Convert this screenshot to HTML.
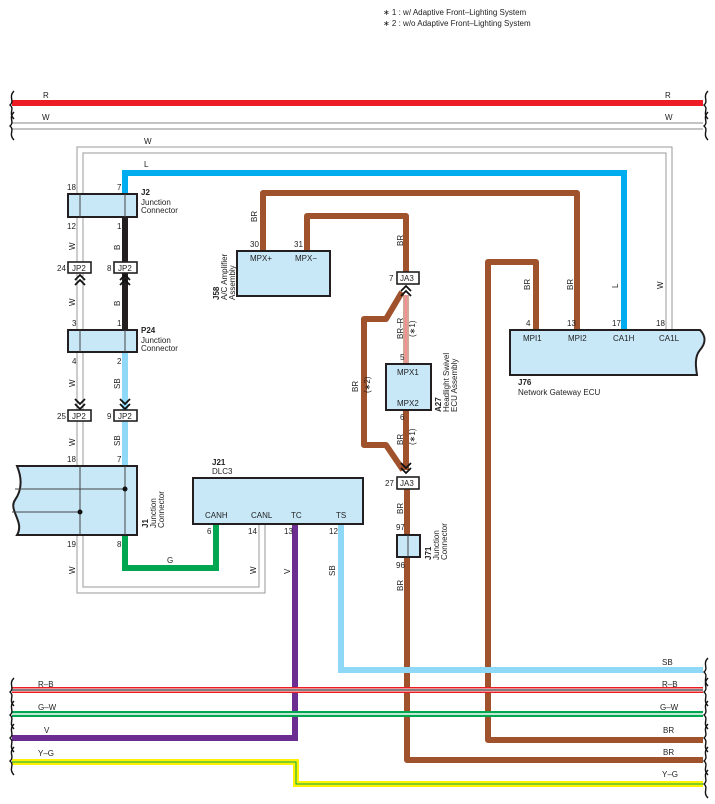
<!DOCTYPE html>
<html><head><meta charset="utf-8"><style>
html,body{margin:0;padding:0;background:#fff;}
svg{display:block;font-family:"Liberation Sans",sans-serif;}
text{font-size:8px;fill:#222;}
.b{font-weight:bold;}
</style></head><body>
<svg width="715" height="804" viewBox="0 0 715 804" xmlns="http://www.w3.org/2000/svg">
<defs>
<g id="chev"><path d="M-5,4 L0,-1 L5,4 M-5,9 L0,4 L5,9" fill="none" stroke="#111" stroke-width="1.8"/></g>
<path id="brace" d="M3,0 C-3,6 4,10 -1,14 C4,18 -3,22 3,28" fill="none" stroke="#111" stroke-width="1.4"/>
</defs>
<text x="383" y="15">∗ 1 : w/ Adaptive Front–Lighting System</text>
<text x="383" y="26">∗ 2 : w/o Adaptive Front–Lighting System</text>

<line x1="12" y1="103" x2="703" y2="103" stroke="#ed1c24" stroke-width="6"/>
<line x1="12" y1="123" x2="703" y2="123" stroke="#888" stroke-width="1"/>
<line x1="12" y1="129" x2="703" y2="129" stroke="#888" stroke-width="1"/>
<text x="43" y="98">R</text><text x="665" y="98">R</text>
<text x="42" y="120">W</text><text x="665" y="120">W</text>
<use href="#brace" x="11" y="91"/><use href="#brace" x="11" y="112"/>
<use href="#brace" x="705" y="91"/><use href="#brace" x="705" y="112"/>

<path d="M80,193 V150 H669 V330" fill="none" stroke="#999" stroke-width="7"/>
<path d="M80,193 V150 H669 V330" fill="none" stroke="#fff" stroke-width="5"/>
<text x="144" y="144">W</text>
<path d="M80,217 V466 M80,535 V590 H262 V524" fill="none" stroke="#999" stroke-width="7"/>
<path d="M80,217 V466 M80,535 V590 H262 V524" fill="none" stroke="#fff" stroke-width="5"/>

<path d="M125,193 V173 H624 V330" fill="none" stroke="#00aeef" stroke-width="6"/>
<text x="144" y="167">L</text>

<g fill="none" stroke="#a0522d" stroke-width="6" stroke-linejoin="round">
<path d="M263,251 V193 H577 V330"/>
<path d="M307,251 V216 H406 V272"/>
<path d="M402,292 L386,319 H364 V445 H386 L403,470"/>
<path d="M406,410 V470"/>
<path d="M407,489 V760 H703"/>
<path d="M536,330 V262 H488 V740 H703"/>
</g>
<line x1="406" y1="295" x2="406" y2="364" stroke="#a0522d" stroke-width="5"/>
<line x1="406" y1="295" x2="406" y2="364" stroke="#fff" stroke-width="3"/>
<line x1="406" y1="295" x2="406" y2="364" stroke="#ed1c24" stroke-width="1"/>

<line x1="125" y1="217" x2="125" y2="330" stroke="#231f20" stroke-width="6"/>
<line x1="125" y1="352" x2="125" y2="466" stroke="#8fd8f8" stroke-width="6"/>
<path d="M125,535 V568 H216 V524" fill="none" stroke="#00a650" stroke-width="6"/>
<text x="167" y="563">G</text>
<path d="M295,524 V738 H12" fill="none" stroke="#6b2d90" stroke-width="6"/>
<path d="M341,524 V670 H703" fill="none" stroke="#8fd8f8" stroke-width="6"/>

<line x1="12" y1="690" x2="703" y2="690" stroke="#ed1c24" stroke-width="6"/>
<line x1="12" y1="690" x2="703" y2="690" stroke="#fff" stroke-width="3"/>
<line x1="12" y1="690" x2="703" y2="690" stroke="#333" stroke-width="1.2"/>
<line x1="12" y1="714" x2="703" y2="714" stroke="#00a650" stroke-width="6"/>
<line x1="12" y1="714" x2="703" y2="714" stroke="#fff" stroke-width="1.5"/>
<path d="M12,762 H296 V784 H703" fill="none" stroke="#fff200" stroke-width="6"/>
<path d="M12,762 H296 V784 H703" fill="none" stroke="#00a650" stroke-width="1"/>
<text x="38" y="687">R–B</text><text x="38" y="710">G–W</text><text x="44" y="733">V</text><text x="38" y="756">Y–G</text>
<text x="662" y="665">SB</text><text x="662" y="687">R–B</text><text x="660" y="710">G–W</text>
<text x="663" y="733">BR</text><text x="663" y="755">BR</text><text x="662" y="777">Y–G</text>
<use href="#brace" x="11" y="678"/><use href="#brace" x="11" y="701"/><use href="#brace" x="11" y="724"/><use href="#brace" x="11" y="747"/>
<use href="#brace" x="705" y="658"/><use href="#brace" x="705" y="678"/><use href="#brace" x="705" y="701"/><use href="#brace" x="705" y="724"/><use href="#brace" x="705" y="747"/><use href="#brace" x="705" y="770"/>

<rect x="68" y="194" width="69" height="23" fill="#c8e8f8" stroke="#231f20" stroke-width="2"/>
<line x1="80" y1="194" x2="80" y2="217" stroke="#444"/><line x1="125" y1="194" x2="125" y2="217" stroke="#444"/>
<text x="67" y="190">18</text><text x="117" y="190">7</text>
<text x="141" y="195" class="b">J2</text><text x="141" y="205">Junction</text><text x="141" y="213">Connector</text>
<text x="67" y="229">12</text><text x="117" y="229">1</text>
<rect x="68" y="262" width="23" height="11" fill="#fff" stroke="#231f20" stroke-width="1.6"/>
<rect x="114" y="262" width="23" height="11" fill="#fff" stroke="#231f20" stroke-width="1.6"/>
<text x="72" y="271">JP2</text><text x="118" y="271">JP2</text>
<text x="57" y="271">24</text><text x="107" y="271">8</text>
<use href="#chev" x="80" y="276"/><use href="#chev" x="125" y="276"/>
<rect x="68" y="330" width="69" height="22" fill="#c8e8f8" stroke="#231f20" stroke-width="2"/>
<line x1="80" y1="330" x2="80" y2="352" stroke="#444"/><line x1="125" y1="330" x2="125" y2="352" stroke="#444"/>
<text x="72" y="326">3</text><text x="117" y="326">1</text>
<text x="141" y="333" class="b">P24</text><text x="141" y="343">Junction</text><text x="141" y="351">Connector</text>
<text x="72" y="364">4</text><text x="117" y="364">2</text>
<g transform="translate(80,408) scale(1,-1)"><use href="#chev" x="0" y="0"/></g>
<g transform="translate(125,408) scale(1,-1)"><use href="#chev" x="0" y="0"/></g>
<rect x="68" y="410" width="23" height="11" fill="#fff" stroke="#231f20" stroke-width="1.6"/>
<rect x="114" y="410" width="23" height="11" fill="#fff" stroke="#231f20" stroke-width="1.6"/>
<text x="72" y="419">JP2</text><text x="118" y="419">JP2</text>
<text x="57" y="419">25</text><text x="107" y="419">9</text>
<path d="M17,466 H137 V535 H17 C25,522 8,510 15,500 C22,490 22,478 17,466 Z" fill="#c8e8f8" stroke="#231f20" stroke-width="2"/>
<line x1="80" y1="466" x2="80" y2="535" stroke="#444"/><line x1="125" y1="466" x2="125" y2="535" stroke="#444"/>
<line x1="15" y1="489" x2="125" y2="489" stroke="#444"/><line x1="12" y1="512" x2="80" y2="512" stroke="#444"/>
<circle cx="125" cy="489" r="2.5" fill="#111"/><circle cx="80" cy="512" r="2.5" fill="#111"/>
<text x="67" y="462">18</text><text x="117" y="462">7</text>
<text x="67" y="547">19</text><text x="117" y="547">8</text>
<g transform="translate(148,528) rotate(-90)"><text x="0" y="0" class="b">J1</text></g>
<g transform="translate(156,528) rotate(-90)"><text x="0" y="0">Junction</text></g>
<g transform="translate(164,528) rotate(-90)"><text x="0" y="0">Connector</text></g>

<rect x="193" y="478" width="170" height="46" fill="#c8e8f8" stroke="#231f20" stroke-width="2"/>
<text x="212" y="465" class="b">J21</text><text x="212" y="474">DLC3</text>
<text x="205" y="518">CANH</text><text x="251" y="518">CANL</text><text x="291" y="518">TC</text><text x="336" y="518">TS</text>
<text x="207" y="534">6</text><text x="248" y="534">14</text><text x="284" y="534">13</text><text x="329" y="534">12</text>

<rect x="237" y="251" width="93" height="45" fill="#c8e8f8" stroke="#231f20" stroke-width="2"/>
<text x="250" y="261">MPX+</text><text x="295" y="261">MPX−</text>
<text x="250" y="247">30</text><text x="294" y="247">31</text>
<g transform="translate(219,300) rotate(-90)"><text class="b">J58</text></g>
<g transform="translate(227,300) rotate(-90)"><text>A/C Amplifier</text></g>
<g transform="translate(235,300) rotate(-90)"><text>Assembly</text></g>

<rect x="397" y="272" width="22" height="12" fill="#fff" stroke="#231f20" stroke-width="1.6"/>
<text x="400" y="281">JA3</text><text x="389" y="281">7</text>
<use href="#chev" x="406" y="287"/>
<rect x="386" y="364" width="45" height="46" fill="#c8e8f8" stroke="#231f20" stroke-width="2"/>
<text x="397" y="375">MPX1</text><text x="397" y="406">MPX2</text>
<text x="400" y="360">5</text><text x="400" y="420">6</text>
<g transform="translate(441,412) rotate(-90)"><text class="b">A27</text></g>
<g transform="translate(449,412) rotate(-90)"><text>Headlight Swivel</text></g>
<g transform="translate(457,412) rotate(-90)"><text>ECU Assembly</text></g>
<g transform="translate(406,472) scale(1,-1)"><use href="#chev" x="0" y="0"/></g>
<rect x="397" y="477" width="22" height="12" fill="#fff" stroke="#231f20" stroke-width="1.6"/>
<text x="400" y="486">JA3</text><text x="385" y="486">27</text>
<rect x="397" y="535" width="23" height="22" fill="#c8e8f8" stroke="#231f20" stroke-width="2"/>
<line x1="408" y1="535" x2="408" y2="557" stroke="#444"/>
<text x="396" y="530">97</text><text x="396" y="568">96</text>
<g transform="translate(431,560) rotate(-90)"><text class="b">J71</text></g>
<g transform="translate(439,560) rotate(-90)"><text>Junction</text></g>
<g transform="translate(447,560) rotate(-90)"><text>Connector</text></g>

<path d="M510,330 H700 C706,336 706,343 700,350 C694,357 696,368 697,375 H510 Z" fill="#c8e8f8" stroke="#231f20" stroke-width="2"/>
<text x="523" y="341">MPI1</text><text x="568" y="341">MPI2</text><text x="613" y="341">CA1H</text><text x="659" y="341">CA1L</text>
<text x="526" y="326">4</text><text x="567" y="326">13</text><text x="612" y="326">17</text><text x="656" y="326">18</text>
<text x="518" y="385" class="b">J76</text><text x="518" y="395">Network Gateway ECU</text>

<g>
<text transform="translate(75,250) rotate(-90)">W</text>
<text transform="translate(120,250) rotate(-90)">B</text>
<text transform="translate(75,306) rotate(-90)">W</text>
<text transform="translate(120,306) rotate(-90)">B</text>
<text transform="translate(75,387) rotate(-90)">W</text>
<text transform="translate(120,389) rotate(-90)">SB</text>
<text transform="translate(75,446) rotate(-90)">W</text>
<text transform="translate(120,446) rotate(-90)">SB</text>
<text transform="translate(75,574) rotate(-90)">W</text>
<text transform="translate(256,574) rotate(-90)">W</text>
<text transform="translate(290,574) rotate(-90)">V</text>
<text transform="translate(335,576) rotate(-90)">SB</text>
<text transform="translate(257,222) rotate(-90)">BR</text>
<text transform="translate(403,246) rotate(-90)">BR</text>
<text transform="translate(403,339) rotate(-90)">BR–R</text>
<text transform="translate(415,337) rotate(-90)">(∗1)</text>
<text transform="translate(358,392) rotate(-90)">BR</text>
<text transform="translate(370,393) rotate(-90)">(∗2)</text>
<text transform="translate(403,445) rotate(-90)">BR</text>
<text transform="translate(415,445) rotate(-90)">(∗1)</text>
<text transform="translate(403,514) rotate(-90)">BR</text>
<text transform="translate(403,591) rotate(-90)">BR</text>
<text transform="translate(530,290) rotate(-90)">BR</text>
<text transform="translate(573,290) rotate(-90)">BR</text>
<text transform="translate(618,288) rotate(-90)">L</text>
<text transform="translate(663,289) rotate(-90)">W</text>
</g>
</svg>
</body></html>
